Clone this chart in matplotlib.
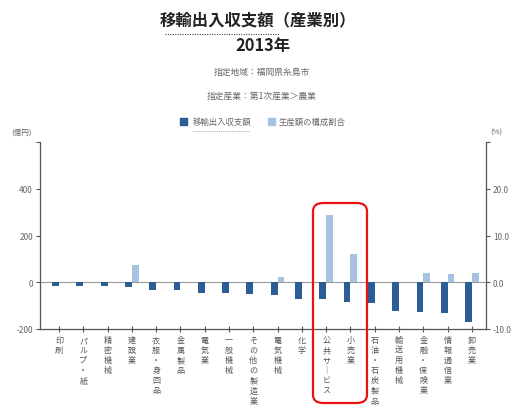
import numpy as np
import matplotlib
matplotlib.use("Agg")
import matplotlib.pyplot as plt
from matplotlib.patches import FancyBboxPatch
from matplotlib.lines import Line2D

plt.rcParams['font.family'] = ['Noto Sans CJK JP', 'DejaVu Sans']

# 産業別データ（福岡県糸島市, 2013年）
industries = ["印刷", "パルプ・紙", "精密機械", "建設業", "衣服・身回品", "金属製品",
              "電気業", "一般機械", "その他の製造業", "電気機械", "化学", "公共サービス",
              "小売業", "石油・石炭製品", "輸送用機械", "金融・保険業", "情報通信業", "卸売業"]
balance = [-16, -17, -17, -22, -35, -35, -47, -47, -50, -53, -72, -72,
           -84, -90, -122, -128, -132, -168]          # 移輸出入収支額（億円）
share = [0.0, 0.0, 0.0, 3.6, 0.0, 0.0, 0.0, 0.0, 0.0, 1.1, 0.0, 14.3,
         6.1, 0.0, 0.0, 2.0, 1.7, 2.0]                 # 生産額の構成割合（%）

left_ticks = [-200, 0, 200, 400, 600]
left_labels = ["-200", "0", "200", "400", ""]
right_ticks = [-10, 0, 10, 20, 30]
right_labels = ["-10.0", "0.0", "10.0", "20.0", ""]

dark = "#2d5d96"
light = "#a7c2e2"
gray = "#666666"

W, H = 515, 406
fig = plt.figure(figsize=(W / 100, H / 100), dpi=100)
ax = fig.add_axes([40 / W, 1 - 330 / H, 446 / W, 187 / H])
ax2 = ax.twinx()

x = np.arange(len(industries))
bw = 0.28
ax.bar(x - bw / 2, balance, bw, color=dark, zorder=3)
ax2.bar(x + bw / 2, share, bw, color=light, zorder=3)

ax.set_xlim(-0.78, len(industries) - 0.42)
ax.set_ylim(-200, 600)
ax2.set_ylim(-10, 30)
ax.axhline(0, color="#999999", lw=0.8, zorder=2)

ax.set_yticks(left_ticks)
ax.set_yticklabels(left_labels)
ax2.set_yticks(right_ticks)
ax2.set_yticklabels(right_labels)

# 縦書きラベル
def vertical(s):
    return "\n".join(s.replace("ー", "｜"))

ax.set_xticks(x)
ax.set_xticklabels([vertical(s) for s in industries], fontsize=5.8,
                   color=gray, linespacing=1.15, va="top")

for a in (ax, ax2):
    a.spines["top"].set_visible(False)
    for s in a.spines.values():
        s.set_color("#555555")
        s.set_linewidth(0.9)
ax.spines["right"].set_visible(False)
ax2.spines["left"].set_visible(False)
ax2.spines["bottom"].set_visible(False)
ax.tick_params(axis="y", labelsize=6, colors="#555555", labelcolor=gray, length=3, pad=2)
ax2.tick_params(axis="y", labelsize=6, colors="#555555", labelcolor=gray, length=3, pad=2)
ax.tick_params(axis="x", direction="inout", length=5, colors="#555555", pad=2)

# タイトル
fig.text(258 / W, 1 - 20 / H, "移輸出入収支額（産業別）", ha="center", va="center",
         fontsize=11.8, fontweight="bold", color="#222222")
fig.add_artist(Line2D([165 / W, 280 / W], [1 - 35 / H, 1 - 35 / H], color="#444444",
                      lw=0.8, ls=(0, (1, 1.2))))
fig.text(263 / W, 1 - 46 / H, "2013年", ha="center", va="center",
         fontsize=11.8, fontweight="bold", color="#222222")
fig.text(262 / W, 1 - 72 / H, "指定地域：福岡県糸島市", ha="center", va="center",
         fontsize=6.3, color=gray)
fig.text(262 / W, 1 - 96 / H, "指定産業：第1次産業＞農業", ha="center", va="center",
         fontsize=6.3, color=gray)

# 凡例
fig.patches.append(FancyBboxPatch((180 / W, 1 - 126 / H), 7 / W, 7 / H, boxstyle="square,pad=0",
                                  color=dark, transform=fig.transFigure))
fig.text(193 / W, 1 - 122 / H, "移輸出入収支額", ha="left", va="center", fontsize=6, color=gray)
fig.add_artist(Line2D([193 / W, 250 / W], [1 - 132 / H, 1 - 132 / H], color="#999999",
                      lw=0.6, ls=(0, (1, 1.2))))
fig.patches.append(FancyBboxPatch((268 / W, 1 - 126 / H), 7 / W, 7 / H, boxstyle="square,pad=0",
                                  color=light, transform=fig.transFigure))
fig.text(279 / W, 1 - 122 / H, "生産額の構成割合", ha="left", va="center", fontsize=6, color=gray)

# 単位
fig.text(21 / W, 1 - 133 / H, "(億円)", ha="center", va="center", fontsize=5.5, color=gray)
fig.text(496 / W, 1 - 133 / H, "(%)", ha="center", va="center", fontsize=5.5, color=gray)

# 強調枠
fig.patches.append(FancyBboxPatch((313 / W, 1 - 404 / H), 54 / W, 200 / H,
                                  boxstyle="round,pad=0,rounding_size=0.02",
                                  fill=False, ec="#ee1111", lw=1.6,
                                  transform=fig.transFigure, zorder=10))

fig.savefig("out.png", dpi=100)
